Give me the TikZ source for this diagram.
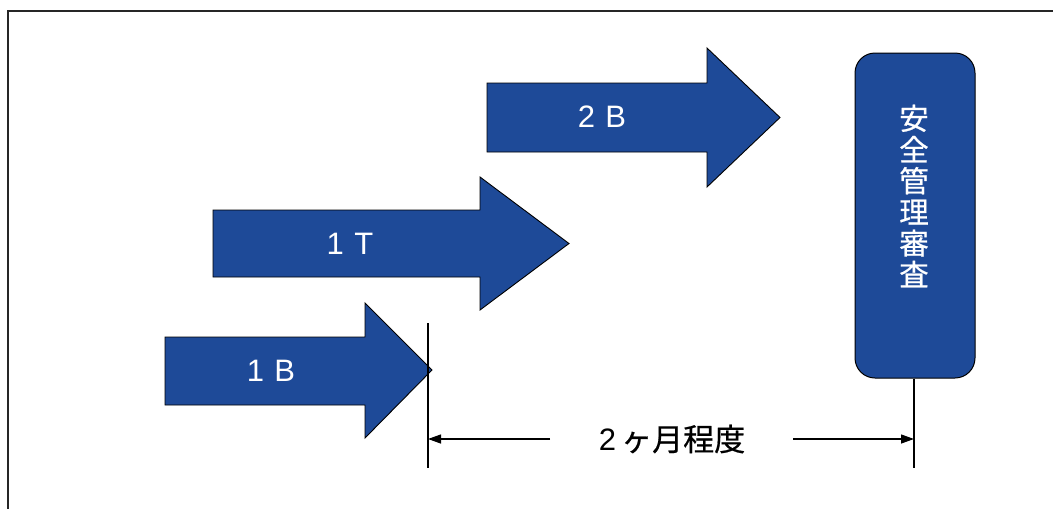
\documentclass[tikz,border=0pt]{standalone}
\usepackage{fontspec}
\setmainfont{Liberation Sans}
\newfontfamily\jp{Noto Sans CJK JP}[FakeBold=0.6]
\usetikzlibrary{arrows.meta}
\definecolor{stepblue}{RGB}{30,74,152}
\tikzset{
  bigarrow/.style={fill=stepblue, draw=black, line width=0.9pt, line join=miter},
  arrowlabel/.style={text=white, font=\fontsize{31}{31}\selectfont, inner sep=0pt},
  reviewbox/.style={fill=stepblue, draw=black, line width=1pt, rounded corners=20pt,
    minimum width=120pt, minimum height=325pt, inner sep=0pt},
  extline/.style={draw=black, line width=1.1pt},
  dimline/.style={draw=black, line width=1.3pt, -{Triangle[length=13pt,width=9pt]}},
  frameline/.style={draw=black!85, line width=2pt}
}
\begin{document}
\begin{tikzpicture}[x=1pt,y=-1pt]
\useasboundingbox (0,0) rectangle (1053,509);
% frame (cut at right and bottom)
\draw[frameline] (8,509) -- (8,11) -- (1053,11);
% arrow 1B
\draw[bigarrow] (165,337) -- (365,337) -- (365,303) -- (432,370) -- (365,438) -- (365,405) -- (165,405) -- cycle;
\coordinate (tipB) at (432,370);
\node[arrowlabel] (l1B) at (271,371) {1\,\,B};
% arrow 1T
\draw[bigarrow] (213,210) -- (480,210) -- (480,177) -- (569,243.5) -- (480,310) -- (480,277) -- (213,277) -- cycle;
\node[arrowlabel] (l1T) at (350,244) {1\,\,T};
% arrow 2B
\draw[bigarrow] (487,83) -- (707,83) -- (707,48) -- (780,117.5) -- (707,187) -- (707,152) -- (487,152) -- cycle;
\node[arrowlabel] (l2B) at (602,117) {2\,\,B};
% review box
\node[reviewbox] (review) at (915,215.5) {};
\node[text=white, inner sep=0pt, font=\jp\fontsize{29.5}{31.2}\selectfont, align=center] (reviewtext) at (914,196)
  {安\\全\\管\\理\\審\\査};
% extension lines
\coordinate (leftext) at (428,323);
\coordinate (leftbot) at (428,468);
\coordinate (rightbot) at (914,468);
\draw[extline] (leftext) -- (leftbot);
\draw[extline] (review.south -| rightbot) -- (rightbot);
% dimension
\node[inner sep=0pt, font=\fontsize{31}{31}\selectfont] (dimtext) at (672,439) {2\,{\jp ヶ月程度}};
\coordinate (dimL) at (428,439);
\coordinate (dimR) at (914,439);
\coordinate (dimLs) at (550,439);
\coordinate (dimRs) at (793,439);
\draw[dimline] (dimLs) -- (dimL);
\draw[dimline] (dimRs) -- (dimR);
\end{tikzpicture}
\end{document}
